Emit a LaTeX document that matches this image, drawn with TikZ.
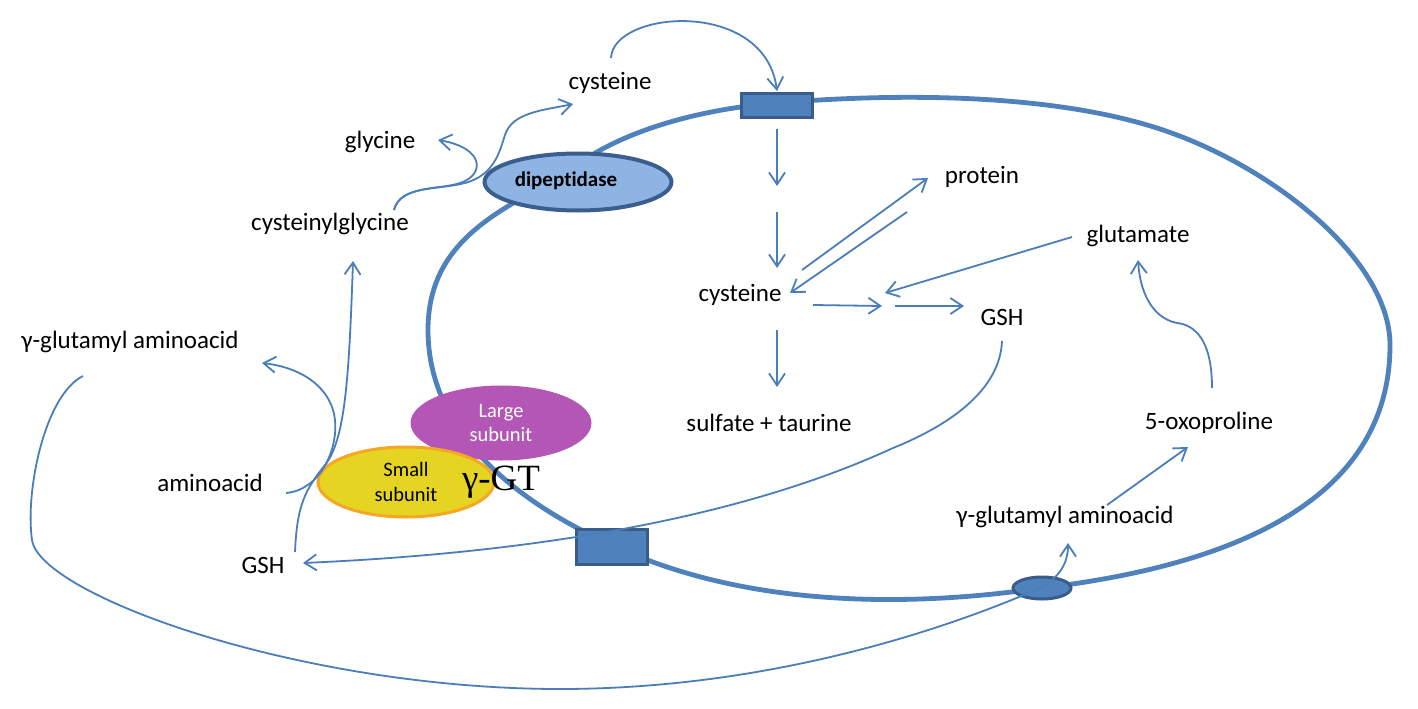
\documentclass[tikz,border=0pt]{standalone}
\usepackage{fontspec}
\setmainfont{Carlito}[Ligatures={TeX,NoCommon}]
\newfontfamily\timesf{Liberation Serif}
\usetikzlibrary{arrows.meta,shapes.geometric}
\definecolor{lineblue}{HTML}{4A7EBB}
\definecolor{membr}{HTML}{4F81BD}
\definecolor{boxfill}{HTML}{4F81BD}
\definecolor{boxline}{HTML}{385D8A}
\definecolor{dipfill}{HTML}{8EB4E3}
\definecolor{dipline}{HTML}{3A5F8F}
\definecolor{largefill}{HTML}{B356B5}
\definecolor{smallfill}{HTML}{E6D422}
\definecolor{smallline}{HTML}{F5A623}
\begin{document}
\begin{tikzpicture}[x=1pt,y=-1pt,
  conn/.style={draw=lineblue,line width=1.8pt,-{Straight Barb[length=12pt,width=16pt]}},
  lbl/.style={font=\fontsize{25}{29}\selectfont,inner sep=0pt},
  subtxt/.style={font=\fontsize{20.5}{24.5}\selectfont,align=center,inner sep=0pt},
  membrane/.style={draw=membr,line width=4.8pt},
  transp/.style={draw=boxline,line width=3pt,fill=boxfill,rectangle,inner sep=0pt}]
\useasboundingbox (0,0) rectangle (1418,709);
\fill[white] (0,0) rectangle (1418,709);

% membrane
\draw[membrane] (510,205) -- (597,152) .. controls (630,133) and (690,110) .. (777,103)
  .. controls (897,93) and (1053,93) .. (1163,130)
  .. controls (1273,167) and (1390,260) .. (1390,345)
  .. controls (1390,485) and (1262,562) .. (1042,588)
  .. controls (890,610) and (735,603) .. (612,545)
  .. controls (512,500) and (428,430) .. (428,330)
  .. controls (428,270) and (460,235) .. cycle;

% membrane proteins
\node[ellipse,draw=dipline,line width=4pt,fill=dipfill,minimum width=187pt,minimum height=57pt,inner sep=0pt] (dip) at (578,182) {};
\node[font=\bfseries\fontsize{21}{25}\selectfont,inner sep=0pt] (diptxt) at (566,181) {dipeptidase};
\node[transp,minimum width=71pt,minimum height=24pt] (rectT) at (777,105.5) {};
\node[transp,minimum width=71pt,minimum height=35pt] (rectB) at (612,547) {};
\node[ellipse,draw=boxline,line width=3pt,fill=boxfill,minimum width=58pt,minimum height=22pt,inner sep=0pt] (ovalB) at (1042,588) {};
\node[ellipse,fill=largefill,minimum width=181pt,minimum height=75pt,inner sep=0pt,text=white,subtxt] (large) at (501,423) {Large\\subunit};
\node[ellipse,draw=smallline,line width=3pt,fill=smallfill,minimum width=176pt,minimum height=70pt,inner sep=0pt,subtxt] (small) at (406,482) {Small\\subunit};
\node[font=\timesf\fontsize{37}{40}\selectfont,inner sep=0pt,anchor=base] (ggt) at (501,490) {γ-GT};

% labels
\node[lbl] (cysT) at (610,83) {cysteine};
\node[lbl] (gly) at (380,142) {glycine};
\node[lbl] (cgly) at (330,224) {cysteinylglycine};
\node[lbl] (ggaL) at (130,342) {γ-glutamyl aminoacid};
\node[lbl] (aa) at (210,483) {aminoacid};
\node[lbl] (gshL) at (263,565) {GSH};
\node[lbl] (prot) at (982,177) {protein};
\node[lbl] (glu) at (1138,236) {glutamate};
\node[lbl] (cysM) at (740,295) {cysteine};
\node[lbl] (gshR) at (1002,317) {GSH};
\node[lbl] (sulf) at (769,423) {sulfate + taurine};
\node[lbl] (oxo) at (1209,423) {5-oxoproline};
\node[lbl] (ggaR) at (1065,517) {γ-glutamyl aminoacid};

% connector end points
\coordinate (c1s) at (611,58);   \coordinate (c1e) at (777,91);
\coordinate (c2s) at (394,210);  \coordinate (c2e) at (573,104);
\coordinate (c3e) at (438,140);
\coordinate (c4s) at (295,552);  \coordinate (c4e) at (353,261);
\coordinate (c5s) at (286,493);  \coordinate (c5e) at (262,363);
\coordinate (c6s) at (83,376);   \coordinate (c6e) at (1068,543);
\coordinate (c7s) at (1212,388); \coordinate (c7e) at (1138,260);
\coordinate (c8s) at (1107,505); \coordinate (c8e) at (1188,447);
\coordinate (c9s) at (1002,341); \coordinate (c9e) at (303,563);
\coordinate (v1s) at (777,129);  \coordinate (v1e) at (777,186);
\coordinate (v2s) at (777,212);  \coordinate (v2e) at (777,268);
\coordinate (v3s) at (777,330);  \coordinate (v3e) at (777,387);
\coordinate (p1s) at (802,270);  \coordinate (p1e) at (928,178);
\coordinate (p2s) at (907,212);  \coordinate (p2e) at (790,293);
\coordinate (g1s) at (813,305);  \coordinate (junc) at (882,306);
\coordinate (g2s) at (895,306);  \coordinate (g2e) at (964,306);
\coordinate (g3s) at (1072,237); \coordinate (g3e) at (885,293);

% connectors
\draw[conn] (c1s) .. controls (613,10) and (765,-2) .. (c1e);
\draw[conn] (c2s) .. controls (400,185) and (440,190) .. (465,183) .. controls (495,175) and (500,150) .. (505,135) .. controls (512,112) and (545,110) .. (c2e);
\draw[conn] (c2s) .. controls (400,185) and (440,190) .. (460,183) .. controls (485,175) and (485,148) .. (c3e);
\draw[conn] (c4s) .. controls (297,505) and (305,490) .. (325,465) .. controls (345,440) and (349,380) .. (c4e);
\draw[conn] (c5s) .. controls (320,490) and (338,450) .. (335,420) .. controls (332,390) and (305,368) .. (c5e);
\draw[conn] (c6s) .. controls (45,395) and (25,490) .. (32,540) .. controls (40,595) and (300,689) .. (560,689) .. controls (800,689) and (990,610) .. (1040,588) .. controls (1058,578) and (1068,565) .. (c6e);
\draw[conn] (c7s) .. controls (1212,340) and (1195,325) .. (1177,323) .. controls (1152,318) and (1140,292) .. (c7e);
\draw[conn] (c8s) -- (c8e);
\draw[conn] (c9s) .. controls (1000,390) and (950,425) .. (893,448) .. controls (780,500) and (600,550) .. (c9e);
\draw[conn] (v1s) -- (v1e);
\draw[conn] (v2s) -- (v2e);
\draw[conn] (v3s) -- (v3e);
\draw[conn] (p1s) -- (p1e);
\draw[conn] (p2s) -- (p2e);
\draw[conn] (g1s) -- (junc);
\draw[conn] (g2s) -- (g2e);
\draw[conn] (g3s) -- (g3e);
\end{tikzpicture}
\end{document}
